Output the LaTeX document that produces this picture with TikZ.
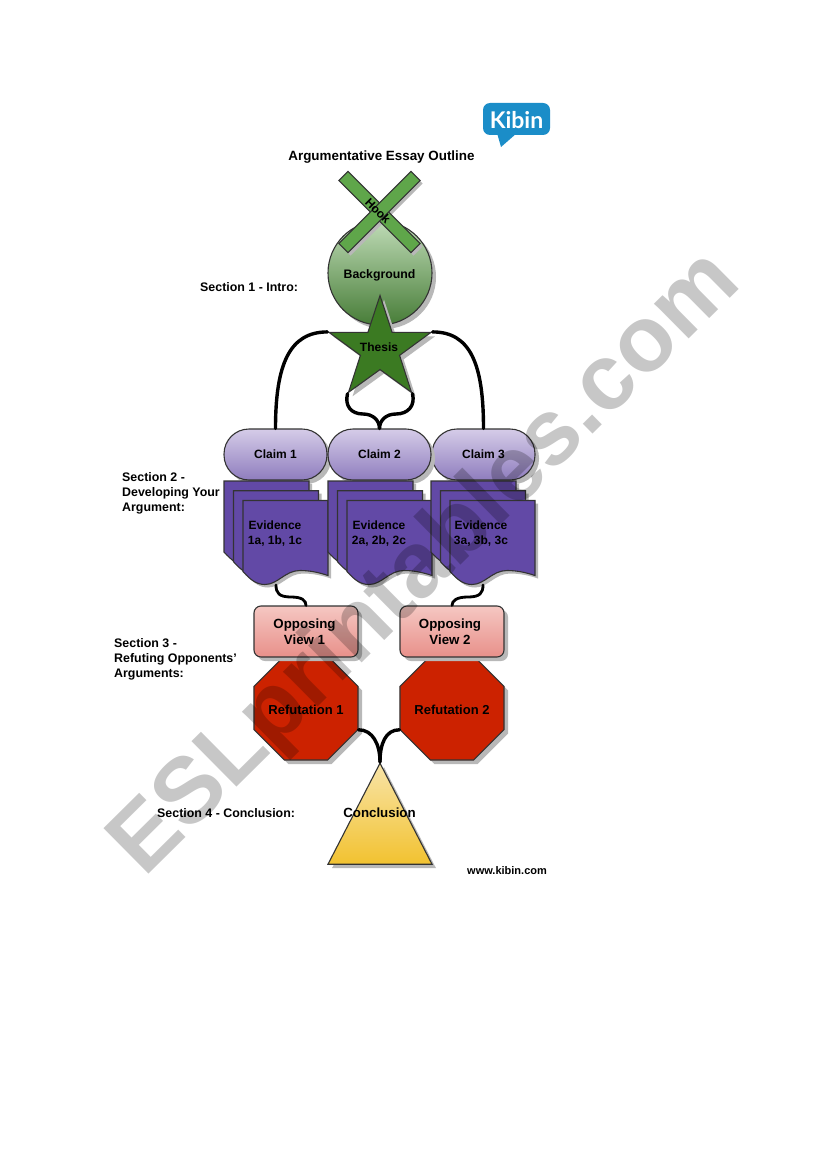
\documentclass[tikz,border=0pt]{standalone}
\usepackage{fontspec}
\setmainfont{Liberation Sans}
\newfontfamily\logofont{Lato}
\usetikzlibrary{shapes.geometric,shadows}
\definecolor{hookgreen}{HTML}{5FA64A}
\definecolor{stargreen}{HTML}{3B7A22}
\definecolor{evpurple}{HTML}{6249A6}
\definecolor{octred}{HTML}{CC2200}
\definecolor{kibinblue}{HTML}{1B8DC8}
\definecolor{shadowgray}{HTML}{B8B8B8}
\definecolor{edgecol}{HTML}{333333}
\definecolor{claimtop}{HTML}{D5CCE8}
\definecolor{claimbot}{HTML}{8F7DBE}
\definecolor{opptop}{HTML}{F5C7C2}
\definecolor{oppbot}{HTML}{E8908A}
\definecolor{tritop}{HTML}{F8E4A8}
\definecolor{tribot}{HTML}{F2C230}
\newcommand{\fs}[1]{\fontsize{#1}{15}\selectfont\bfseries}
\newcommand{\evpath}{(0,0) -- (85,0) -- (85,75)
    .. controls (76,72) and (67,70) .. (57,70)
    .. controls (42,70) and (35,84) .. (22,84)
    .. controls (14,84) and (8,80) .. (0,71) -- cycle}
\newcommand{\evdoc}[2]{%
  \begin{scope}[shift={(#1,#2)}]
  \fill[shadowgray,shift={(3,3)}] \evpath;
  \draw[evshape] \evpath;
  \end{scope}}
\tikzset{
  shapeline/.style={draw=edgecol,line width=1.1pt},
  softshadow/.style={drop shadow={shadow xshift=4pt,shadow yshift=-4pt,fill=shadowgray,opacity=1}},
  lab/.style={font=\fs{12},text=black,inner sep=0pt,align=center},
  sectionlab/.style={font=\fs{12.4},text=black,inner sep=0pt,anchor=west,align=left},
  link/.style={draw=black,line width=3.4pt,line cap=round},
  evshape/.style={shapeline,fill=evpurple},
  claimbox/.style={shapeline,softshadow,rectangle,rounded corners=25pt,minimum width=103pt,minimum height=51pt,
    top color=claimtop,bottom color=claimbot,inner sep=0pt,font=\fs{12}},
  oppbox/.style={shapeline,softshadow,rectangle,rounded corners=7pt,minimum width=104pt,minimum height=51pt,
    top color=opptop,bottom color=oppbot,inner sep=0pt},
  octa/.style={shapeline,softshadow,regular polygon,regular polygon sides=8,minimum size=112.6pt,inner sep=0pt,fill=octred},
  hookbar/.style={rectangle,minimum width=102pt,minimum height=13pt,inner sep=0pt},
  hookface/.style={hookbar,shapeline,fill=hookgreen},
  hookshade/.style={hookbar,fill=shadowgray},
}
\begin{document}
\begin{tikzpicture}[x=1pt,y=-1pt]
\useasboundingbox (0,0) rectangle (821,1161);
\fill[white] (0,0) rectangle (821,1161);
% logo
\fill[kibinblue,rounded corners=7pt] (483,103) rectangle (550,135);
\fill[kibinblue] (497,133) -- (501,147) -- (517,133) -- cycle;
\node[text=white,inner sep=0pt,font=\logofont\bfseries\fontsize{23}{23}\selectfont] (logo) at (516.5,120) {Kibin};
\node[lab,font=\fs{13.4}] (title) at (381.5,157) {Argumentative Essay Outline};
% background
\node[circle,shapeline,softshadow,minimum size=104pt,inner sep=0pt,top color=hookgreen!40!white,bottom color=hookgreen!75!black] (bg) at (380,273) {};
\node[lab,font=\fs{12.3}] (bgt) at (379.5,275) {Background};
% hook
\node[hookshade,rotate=-45] (hs1) at (382,215) {};
\node[hookshade,rotate=45] (hs2) at (382,215) {};
\node[hookface,rotate=-45] (h1) at (379.5,212) {};
\node[hookface,rotate=45] (h2) at (379.5,212) {};
\node[lab,rotate=-45] (hookt) at (378,211) {Hook};
% thesis
\node[star,star points=5,star point ratio=2.6,shapeline,softshadow,fill=stargreen,minimum size=107pt,inner sep=0pt] (thesis) at (380,349) {};
\node[lab] (thesist) at (379,347) {Thesis};
% claims
\node[claimbox] (c1) at (275.5,454.5) {\raisebox{-1pt}{Claim 1}};
\node[claimbox] (c3) at (483.5,454.5) {\raisebox{-1pt}{Claim 3}};
\node[claimbox] (c2) at (379.5,454.5) {\raisebox{-1pt}{Claim 2}};
% connectors from thesis
\draw[link] (thesis.outer point 2) .. controls +(-38,0) and +(0,-64) .. (c1.north);
\draw[link] (thesis.outer point 5) .. controls +(38,0) and +(0,-64) .. (c3.north);
\draw[link] (thesis.outer point 3) .. controls +(-3,12) and +(-12,0) .. (363,414) .. controls +(10,0) and +(0,-8) .. (c2.north);
\draw[link] (thesis.outer point 4) .. controls +(3,12) and +(12,0) .. (396,414) .. controls +(-10,0) and +(0,-8) .. (c2.north);
% evidence stacks
\evdoc{224}{481}\evdoc{233.5}{490.7}\evdoc{243}{500.5}
\evdoc{328}{481}\evdoc{337.5}{490.7}\evdoc{347}{500.5}
\evdoc{431}{481}\evdoc{440.5}{490.7}\evdoc{450}{500.5}
\node[lab] (e1) at (275,534) {Evidence\\1a, 1b, 1c};
\node[lab] (e2) at (379,534) {Evidence\\2a, 2b, 2c};
\node[lab] (e3) at (481,534) {Evidence\\3a, 3b, 3c};
\coordinate (e1b) at (276,585);
\coordinate (e3b) at (483,585);
% refutation
\node[octa] (r1) at (306,708) {};
\node[octa] (r2) at (452,708) {};
\node[lab,font=\fs{13}] (r1t) at (306,710) {Refutation 1};
\node[lab,font=\fs{13}] (r2t) at (452,710) {Refutation 2};
% opposing
\node[oppbox] (o1) at (306,631.5) {};
\node[oppbox] (o2) at (452,631.5) {};
\node[lab,font=\fs{13.3}] (o1t) at (304.5,632) {Opposing\\[1pt]View 1};
\node[lab,font=\fs{13.3}] (o2t) at (450,632) {Opposing\\[1pt]View 2};
\draw[link,line width=2.8pt] (e1b) .. controls +(0,8) and +(-12,0) .. (291,597) .. controls +(11,0) and +(0,-5) .. (o1.north);
\draw[link,line width=2.8pt] (e3b) .. controls +(0,8) and +(12,0) .. (468,597) .. controls +(-11,0) and +(0,-5) .. (o2.north);
% conclusion
\node[isosceles triangle,isosceles triangle apex angle=55,isosceles triangle stretches,shape border rotate=90,minimum width=104pt,minimum height=101pt,inner sep=0pt,anchor=apex,shapeline,softshadow,top color=tritop,bottom color=tribot] (tri) at (380,762) {};
\node[lab,font=\fs{13.3}] (trit) at (379.5,813) {Conclusion};
\draw[link] (r1.corner 7) .. controls +(14,0) and +(0,-18) .. (tri.apex);
\draw[link] (r2.corner 4) .. controls +(-14,0) and +(0,-18) .. (tri.apex);
% section labels
\node[sectionlab] (s1) at (200,287) {Section 1 - Intro:};
\node[sectionlab] (s2) at (122,493) {Section 2 -\\Developing Your\\Argument:};
\node[sectionlab] (s3) at (114,659) {Section 3 -\\Refuting Opponents'\\Arguments:};
\node[sectionlab] (s4) at (157,813) {Section 4 - Conclusion:};
\node[sectionlab,font=\fs{11}] (web) at (467,871) {www.kibin.com};
% watermark
\node[rotate=44.7,text=black,text opacity=.22,inner sep=0pt,font=\fontsize{93}{93}\selectfont\bfseries] (wm) at (426.5,565) {ESLprintables.com};
\end{tikzpicture}
\end{document}
